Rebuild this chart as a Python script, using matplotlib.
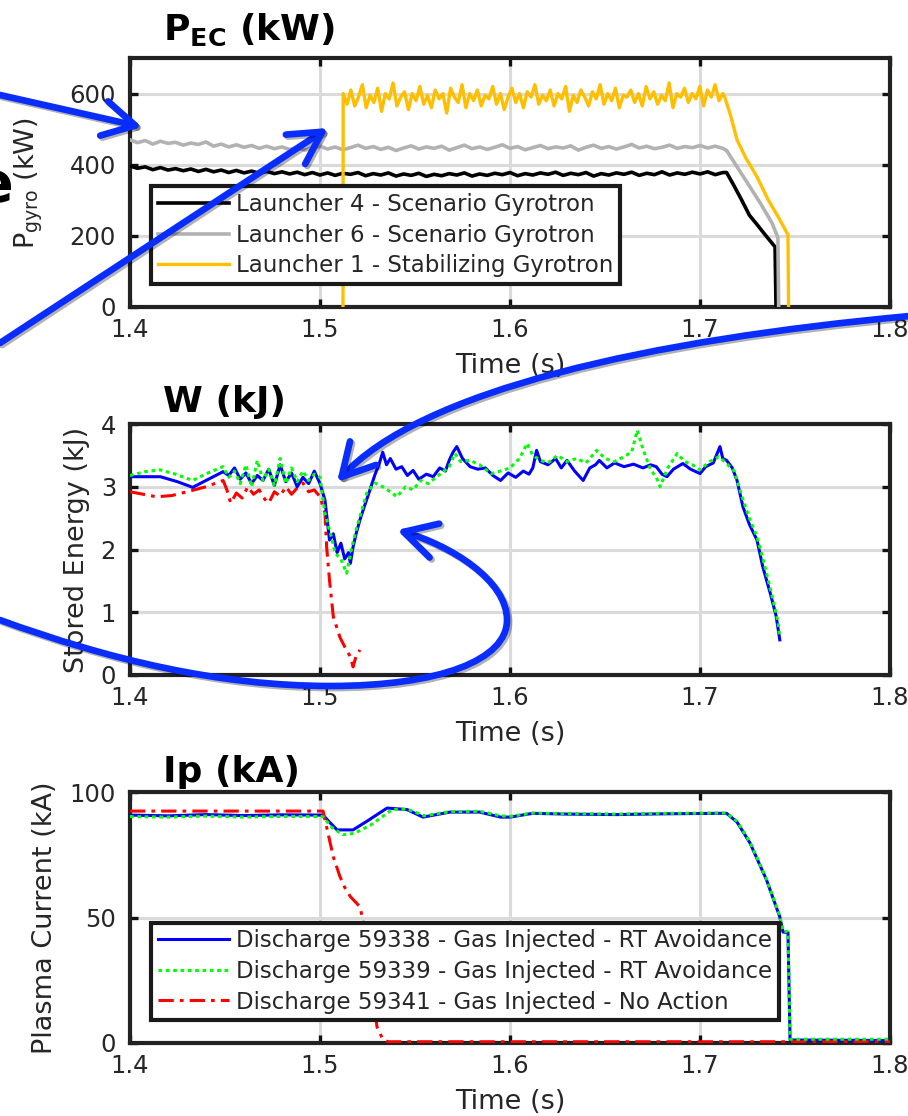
import numpy as np
import matplotlib
matplotlib.use("Agg")
import matplotlib.pyplot as plt
from matplotlib.path import Path
from matplotlib.patches import FancyArrowPatch, ArrowStyle
import matplotlib.patheffects as pe

plt.rcParams['font.family'] = ['DejaVu Sans']
plt.rcParams['mathtext.fontset'] = 'dejavusans'

# ------------------------------------------------------------------ data
# Panel 1 : gyrotron power (kW)
gyro_t_start, gyro_t_end = 1.400, 1.712
l4_plateau = [396, 390, 394, 386, 392, 385, 389, 383, 388, 381, 387, 380, 385, 378, 384, 377,
              382, 376, 381, 375, 380, 374, 379, 372, 378, 371, 377, 370, 376, 373, 378, 369,
              375, 371, 377, 368, 374, 370, 376, 367, 373, 369, 375, 371, 377, 368, 374, 370,
              376, 372, 378, 369, 375, 371, 377, 373, 379, 370, 376, 372, 378, 368, 375, 371,
              377, 373, 379, 370, 376, 372, 380, 371, 377, 373, 379, 374, 380, 372, 378]
l4_ramp_t = [1.714, 1.718, 1.722, 1.726, 1.730, 1.734, 1.7395, 1.7400]
l4_ramp_v = [378, 340, 300, 258, 232, 205, 169, 0]

l6_plateau = [470, 462, 468, 458, 466, 460, 463, 455, 461, 457, 464, 452, 458, 450, 456, 449,
              454, 446, 452, 445, 450, 443, 448, 441, 447, 452, 444, 450, 442, 448, 455, 446,
              451, 443, 449, 440, 447, 453, 444, 450, 446, 452, 441, 448, 455, 445, 450, 443,
              449, 456, 446, 451, 442, 448, 454, 445, 450, 447, 453, 441, 449, 455, 446, 451,
              444, 450, 457, 447, 452, 445, 449, 455, 446, 451, 448, 454, 447, 452, 446]
l6_ramp_t = [1.714, 1.720, 1.726, 1.732, 1.738, 1.741, 1.7414]
l6_ramp_v = [440, 390, 340, 290, 235, 195, 0]

l1_on_t, l1_on_v = 1.5121, 0
l1_t_start, l1_t_end = 1.5122, 1.712
l1_plateau = [600, 570, 610, 565, 590, 625, 560, 595, 575, 615, 550, 600, 585, 630, 565, 590,
              605, 555, 600, 580, 620, 570, 595, 560, 610, 585, 600, 545, 615, 590, 575, 625,
              560, 600, 580, 610, 565, 595, 585, 620, 570, 600, 555, 590, 615, 575, 600, 560,
              605, 590, 625, 570, 595, 580, 610, 565, 600, 585, 620, 550, 595, 575, 610, 590,
              565, 605, 585, 625, 570, 600, 580, 615, 560, 595, 590, 610, 575, 600, 565, 620,
              585, 605, 570, 595, 580, 630, 560, 600, 590, 615, 575, 600, 585, 620, 565, 610,
              590, 625, 580, 600]
l1_ramp_t = [1.713, 1.716, 1.7195, 1.724, 1.730, 1.736, 1.741, 1.7463, 1.7466]
l1_ramp_v = [590, 540, 470, 420, 366, 300, 255, 203, 0]

gyro_labels = ["Launcher 4 - Scenario Gyrotron",
               "Launcher 6 - Scenario Gyrotron",
               "Launcher 1 - Stabilizing Gyrotron"]

# Panel 2 : stored energy (kJ)
w38_t = [1.400, 1.416, 1.425, 1.433, 1.440, 1.449, 1.452, 1.455, 1.458, 1.461, 1.464, 1.467,
         1.470, 1.473, 1.476, 1.479, 1.482, 1.485, 1.488, 1.491, 1.494, 1.497, 1.500, 1.5026,
         1.505, 1.507, 1.509, 1.511, 1.513, 1.515, 1.516, 1.5174, 1.519, 1.521, 1.5235, 1.5263,
         1.529, 1.531, 1.533, 1.535, 1.537, 1.540, 1.543, 1.546, 1.549, 1.552, 1.556, 1.5596,
         1.563, 1.566, 1.568, 1.570, 1.572, 1.575, 1.579, 1.583, 1.587, 1.591, 1.595, 1.599,
         1.603, 1.607, 1.610, 1.612, 1.614, 1.616, 1.620, 1.624, 1.627, 1.630, 1.634, 1.6385,
         1.642, 1.645, 1.647, 1.651, 1.655, 1.660, 1.665, 1.670, 1.674, 1.677, 1.680, 1.6826,
         1.686, 1.691, 1.695, 1.700, 1.703, 1.707, 1.7105, 1.712, 1.714, 1.717, 1.7195, 1.7226,
         1.726, 1.730, 1.733, 1.737, 1.740, 1.742]
w38_v = [3.16, 3.16, 3.08, 2.99, 3.10, 3.24, 3.18, 3.30, 3.12, 3.22, 3.05, 3.18,
         3.10, 3.28, 3.02, 3.35, 3.08, 3.22, 3.00, 3.15, 3.05, 3.25, 3.05, 2.79,
         2.15, 2.25, 1.95, 2.10, 1.85, 1.95, 1.78, 2.04, 2.25, 2.47, 2.70, 2.95,
         3.20, 3.35, 3.55, 3.35, 3.45, 3.28, 3.32, 3.18, 3.26, 3.12, 3.20, 3.16,
         3.30, 3.25, 3.42, 3.55, 3.64, 3.45, 3.32, 3.28, 3.30, 3.18, 3.10, 3.22,
         3.15, 3.25, 3.20, 3.30, 3.58, 3.40, 3.35, 3.45, 3.30, 3.42, 3.25, 3.10,
         3.30, 3.35, 3.42, 3.30, 3.38, 3.32, 3.36, 3.30, 3.35, 3.32, 3.20, 3.16,
         3.28, 3.37, 3.28, 3.21, 3.32, 3.38, 3.64, 3.45, 3.42, 3.30, 3.10, 2.68,
         2.40, 2.15, 1.73, 1.30, 0.95, 0.56]

w39_t = [1.400, 1.408, 1.4158, 1.424, 1.433, 1.441, 1.449, 1.452, 1.455, 1.458, 1.461, 1.464,
         1.467, 1.470, 1.473, 1.476, 1.479, 1.482, 1.485, 1.488, 1.491, 1.494, 1.497, 1.500,
         1.5026, 1.506, 1.508, 1.511, 1.514, 1.5165, 1.519, 1.5246, 1.529, 1.533, 1.537, 1.5405,
         1.545, 1.549, 1.553, 1.557, 1.561, 1.564, 1.568, 1.571, 1.574, 1.579, 1.584, 1.590,
         1.595, 1.600, 1.605, 1.609, 1.612, 1.616, 1.620, 1.625, 1.630, 1.635, 1.640, 1.6456,
         1.650, 1.655, 1.660, 1.664, 1.667, 1.670, 1.674, 1.677, 1.679, 1.683, 1.688, 1.692,
         1.696, 1.700, 1.705, 1.710, 1.714, 1.718, 1.722, 1.726, 1.730, 1.734, 1.738, 1.741,
         1.742]
w39_v = [3.18, 3.24, 3.27, 3.20, 3.10, 3.22, 3.32, 3.15, 3.25, 3.05, 3.35, 3.00,
         3.42, 3.10, 3.28, 3.02, 3.45, 3.05, 3.30, 3.08, 3.25, 3.10, 3.20, 3.15,
         2.58, 2.20, 1.94, 1.85, 1.62, 2.00, 2.31, 2.90, 3.06, 3.00, 2.92, 2.84,
         3.00, 2.95, 3.10, 3.05, 3.15, 3.22, 3.32, 3.53, 3.40, 3.42, 3.35, 3.21,
         3.25, 3.30, 3.45, 3.69, 3.50, 3.42, 3.38, 3.50, 3.40, 3.45, 3.38, 3.58,
         3.45, 3.40, 3.48, 3.55, 3.90, 3.60, 3.27, 3.15, 3.00, 3.30, 3.53, 3.40,
         3.35, 3.27, 3.40, 3.48, 3.37, 3.25, 2.85, 2.50, 2.20, 1.75, 1.25, 0.85,
         0.60]

w41_t = [1.400, 1.407, 1.414, 1.422, 1.430, 1.440, 1.449, 1.451, 1.453, 1.456, 1.459, 1.462,
         1.465, 1.468, 1.471, 1.473, 1.476, 1.479, 1.482, 1.485, 1.488, 1.491, 1.494, 1.497,
         1.500, 1.5026, 1.5035, 1.505, 1.507, 1.5105, 1.513, 1.516, 1.5174, 1.519, 1.521]
w41_v = [2.92, 2.88, 2.84, 2.86, 2.92, 3.00, 3.10, 2.95, 2.74, 2.90, 2.82, 3.00,
         2.88, 2.95, 2.80, 2.74, 2.92, 2.85, 3.00, 2.88, 2.98, 3.06, 2.92, 2.95,
         2.84, 2.58, 2.04, 1.51, 0.93, 0.60, 0.45, 0.29, 0.13, 0.30, 0.40]

# Panel 3 : plasma current (kA)
ip38_t = [1.400, 1.420, 1.440, 1.460, 1.480, 1.5016, 1.505, 1.509, 1.5174, 1.525, 1.5353, 1.5458,
          1.5542, 1.5684, 1.584, 1.595, 1.600, 1.612, 1.630, 1.656, 1.680, 1.709, 1.714, 1.7195,
          1.7263, 1.735, 1.742, 1.7437, 1.7463, 1.7474, 1.800]
ip38_v = [90.8, 90.5, 91.0, 90.6, 90.9, 90.8, 88.0, 84.9, 84.9, 88.5, 93.6, 93.0,
          90.0, 92.0, 92.0, 90.0, 90.0, 91.5, 91.2, 91.0, 91.3, 91.5, 91.5, 88.0,
          79.7, 65.0, 50.2, 44.2, 44.0, 1.2, 1.0]
ip39_t = [1.400, 1.420, 1.440, 1.460, 1.480, 1.5016, 1.506, 1.512, 1.518, 1.527, 1.538, 1.5458,
          1.555, 1.5684, 1.584, 1.595, 1.600, 1.612, 1.630, 1.656, 1.680, 1.709, 1.714, 1.7195,
          1.7263, 1.735, 1.742, 1.7437, 1.7463, 1.7474, 1.800]
ip39_v = [90.2, 90.0, 90.4, 90.0, 90.3, 90.2, 86.0, 83.0, 83.5, 87.0, 93.0, 93.2,
          90.5, 92.2, 92.3, 90.5, 90.3, 91.6, 91.4, 91.2, 91.5, 91.6, 91.6, 88.3,
          80.0, 65.3, 50.5, 44.5, 44.3, 1.5, 1.5]
ip41_t = [1.400, 1.5016, 1.505, 1.507, 1.5105, 1.513, 1.516, 1.521, 1.5226, 1.526, 1.530, 1.5332,
          1.536, 1.800]
ip41_v = [92.4, 92.4, 80.9, 74.2, 66.3, 62.0, 58.3, 54.3, 49.0, 30.0, 6.4, 1.2, 0.5, 0.5]

discharge_labels = ["Discharge 59338 - Gas Injected - RT Avoidance",
                    "Discharge 59339 - Gas Injected - RT Avoidance",
                    "Discharge 59341 - Gas Injected - No Action"]

x_ticks = [1.4, 1.5, 1.6, 1.7, 1.8]
x_ticklabels = ["1.4", "1.5", "1.6", "1.7", "1.8"]

# ------------------------------------------------------------------ styles
W, H = 908, 1116
fig = plt.figure(figsize=(W / 100, H / 100), dpi=100)
fig.patch.set_facecolor("white")

TXT = "#262626"
GRID = "#dadada"
C_L4, C_L6, C_L1 = "#000000", "#b2b2b2", "#ffbf00"
C_B, C_G, C_R = "#0000ff", "#00ff00", "#ff0000"
TICK_FS, LABEL_FS, LEG_FS, TITLE_FS = 17.5, 19.5, 16.5, 26


def ax_rect(top_px, bot_px, left_px=130, right_px=890):
    return [left_px / W, 1 - bot_px / H, (right_px - left_px) / W, (bot_px - top_px) / H]


def style_axes(ax, ylim, yticks):
    ax.set_xlim(1.4, 1.8)
    ax.set_ylim(*ylim)
    ax.set_xticks(x_ticks)
    ax.set_xticklabels(x_ticklabels)
    ax.set_yticks(yticks)
    ax.grid(True, color=GRID, lw=2.2)
    ax.set_axisbelow(True)
    for s in ax.spines.values():
        s.set_linewidth(3.0)
        s.set_color("#222222")
    ax.tick_params(direction="in", length=6, width=2.4, color="#111111",
                   top=True, right=True, labelsize=TICK_FS, labelcolor=TXT)
    ax.tick_params(axis="x", pad=8)
    ax.tick_params(axis="y", pad=10)
    ax.set_xlabel("Time (s)", fontsize=LABEL_FS, color=TXT, va="top")
    ax.xaxis.set_label_coords(0.5, -0.185)


def legend(ax, handles, labels, anchor):
    lg = ax.legend(handles, labels, loc="upper left", bbox_to_anchor=anchor, borderaxespad=0,
                   fontsize=LEG_FS, frameon=True, fancybox=False, framealpha=1,
                   edgecolor="#1a1a1a", handlelength=3.1, handletextpad=0.28,
                   labelspacing=0.33, borderpad=0.3)
    lg.get_frame().set_linewidth(3.0)
    lg.set_zorder(5)
    for t in lg.get_texts():
        t.set_color(TXT)
    return lg


# ---------------- panel 1
ax1 = fig.add_axes(ax_rect(58, 307))
t_pl = np.linspace(gyro_t_start, gyro_t_end, len(l4_plateau))
h4, = ax1.plot(np.r_[t_pl, l4_ramp_t], np.r_[l4_plateau, l4_ramp_v], color=C_L4, lw=2.6,
               zorder=3)
t_pl6 = np.linspace(gyro_t_start, gyro_t_end, len(l6_plateau))
h6, = ax1.plot(np.r_[t_pl6, l6_ramp_t], np.r_[l6_plateau, l6_ramp_v], color=C_L6, lw=2.6,
               zorder=3)
t_pl1 = np.linspace(l1_t_start, l1_t_end, len(l1_plateau))
h1, = ax1.plot(np.r_[[l1_on_t], t_pl1, l1_ramp_t], np.r_[[l1_on_v], l1_plateau, l1_ramp_v],
               color=C_L1, lw=2.4, zorder=3)
style_axes(ax1, (0, 700), [0, 200, 400, 600])
ax1.set_ylabel(r"P$_{\rm gyro}$ (kW)", fontsize=LABEL_FS, color=TXT)
ax1.yaxis.set_label_coords(-0.112, 0.5)
legend(ax1, [h4, h6, h1], gyro_labels, (0.028, 0.484))
ax1.text(0.043, 1.072, r"$\mathbf{P_{EC}}$ (kW)", transform=ax1.transAxes,
         fontsize=TITLE_FS, fontweight="bold", va="baseline", ha="left")

# ---------------- panel 2
ax2 = fig.add_axes(ax_rect(424, 675))
ax2.plot(w41_t, w41_v, color=C_R, lw=2.2, dashes=(5, 2, 1.2, 2), zorder=3)
ax2.plot(w39_t, w39_v, color=C_G, lw=2.2, dashes=(1.2, 1.2), zorder=4)
ax2.plot(w38_t, w38_v, color=C_B, lw=2.2, zorder=3)
style_axes(ax2, (0, 4), [0, 1, 2, 3, 4])
ax2.set_ylabel("Stored Energy (kJ)", fontsize=LABEL_FS, color=TXT)
ax2.yaxis.set_label_coords(-0.053, 0.5)
ax2.text(0.043, 1.048, "W (kJ)", transform=ax2.transAxes,
         fontsize=TITLE_FS, fontweight="bold", va="baseline", ha="left")

# ---------------- panel 3
ax3 = fig.add_axes(ax_rect(792, 1043))
l_b, = ax3.plot(ip38_t, ip38_v, color=C_B, lw=2.2, zorder=3)
l_g, = ax3.plot(ip39_t, ip39_v, color=C_G, lw=2.2, dashes=(1.2, 1.2), zorder=4)
l_r, = ax3.plot(ip41_t, ip41_v, color=C_R, lw=2.2, dashes=(5, 2, 1.2, 2), zorder=3)
style_axes(ax3, (0, 100), [0, 50, 100])
ax3.set_ylabel("Plasma Current (kA)", fontsize=LABEL_FS, color=TXT)
ax3.yaxis.set_label_coords(-0.095, 0.5)
legend(ax3, [l_b, l_g, l_r], discharge_labels, (0.028, 0.480))
ax3.text(0.043, 1.040, "Ip (kA)", transform=ax3.transAxes,
         fontsize=TITLE_FS, fontweight="bold", va="baseline", ha="left")

# ---------------- annotation overlay (pixel coordinates)
ov = fig.add_axes([0, 0, 1, 1])
ov.set_xlim(0, W)
ov.set_ylim(H, 0)
ov.axis("off")
ov.patch.set_alpha(0)
ov.set_zorder(20)

ARROW_C = "#0a2dff"
shadow = [pe.SimpleLineShadow(offset=(1.5, -1.5), alpha=0.3, shadow_color="k"), pe.Normal()]


def arrow(verts, codes):
    p = FancyArrowPatch(path=Path(verts, codes),
                        arrowstyle=ArrowStyle("->", head_length=1.0, head_width=0.55),
                        mutation_scale=23, lw=4.8, color=ARROW_C, capstyle="round",
                        joinstyle="round")
    p.set_path_effects(shadow)
    ov.add_patch(p)


M, LN, C4 = Path.MOVETO, Path.LINETO, Path.CURVE4
arrow([(0, 95), (142, 127)], [M, LN])
arrow([(0, 343), (328, 128)], [M, LN])
arrow([(910, 316), (650, 340), (420, 390), (337, 482)], [M, C4, C4, C4])
arrow([(0, 620), (110, 660), (220, 686), (330, 686),
       (440, 686), (507, 660), (507, 620),
       (507, 580), (450, 545), (397, 530)],
      [M, C4, C4, C4, C4, C4, C4, C4, C4, C4])

# cropped large letter at the left edge (as in the source figure)
ov.text(13, 186, "e", fontsize=40, fontweight="bold", ha="right", va="center", color="k")

fig.savefig("out.png", dpi=100)
